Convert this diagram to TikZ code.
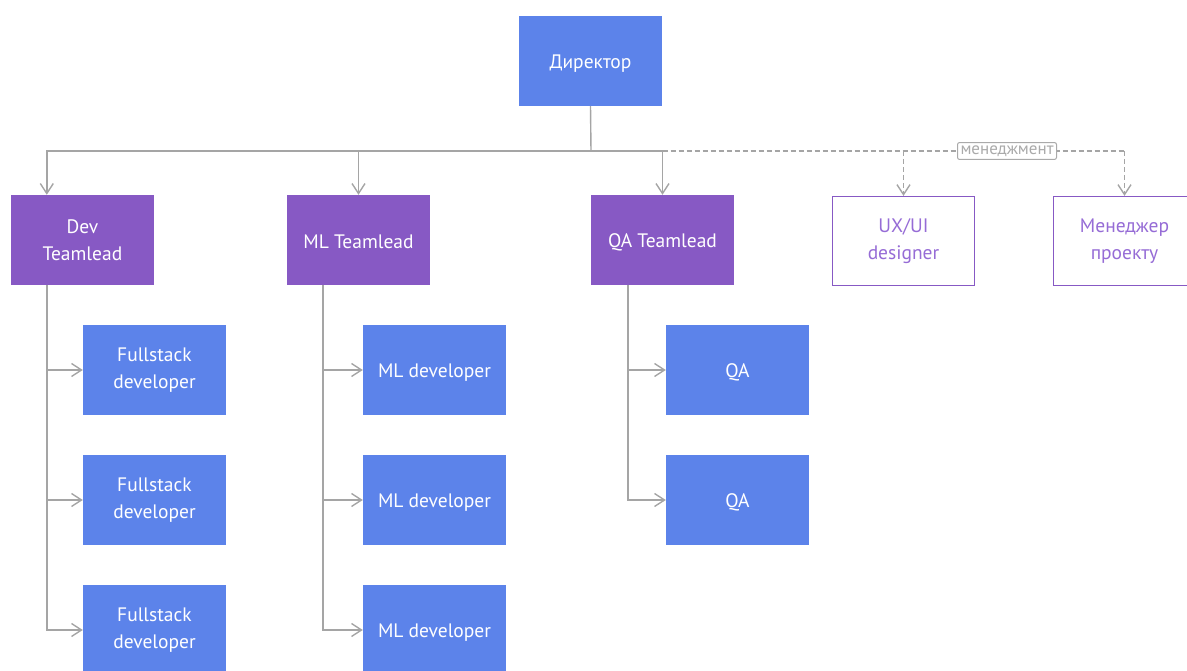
\documentclass[tikz,border=0pt]{standalone}
\usepackage{fontspec}
\setmainfont{PT Sans}
\usetikzlibrary{arrows.meta,calc}
\definecolor{boxblue}{RGB}{92,131,234}
\definecolor{boxpurple}{RGB}{135,89,196}
\definecolor{txtpurple}{RGB}{150,108,214}
\definecolor{linegrey}{RGB}{165,165,165}
\definecolor{labgrey}{RGB}{170,170,170}
\tikzset{
  base/.style={minimum width=143pt, minimum height=90pt, inner sep=0pt, align=center,
    font=\fontsize{19.5}{27}\selectfont, execute at begin node={\rule{0pt}{18pt}}},
  bluebox/.style={base, fill=boxblue, text=white},
  leadbox/.style={base, fill=boxpurple, text=white},
  outbox/.style={base, draw=boxpurple, line width=1.2pt, fill=white, text=txtpurple,
    minimum width=142pt, minimum height=89pt},
  conn/.style={draw=linegrey, line width=1.4pt},
  arr/.style={conn, -{Straight Barb[length=10pt,width=13pt,line width=1.4pt]}},
  darr/.style={conn, dashed, dash pattern=on 5pt off 3pt, -{Straight Barb[length=10pt,width=13pt,line width=1.4pt,sep=0pt]}},
  dline/.style={conn, dashed, dash pattern=on 5pt off 3pt},
  lab/.style={draw=labgrey, line width=1pt, fill=white, text=labgrey, rounded corners=2pt,
    inner xsep=3pt, inner ysep=3pt, font=\fontsize{17}{19}\selectfont},
}
\begin{document}
\begin{tikzpicture}[x=1pt,y=-1pt]
\useasboundingbox (0,0) rectangle (1187,671);
\clip (0,0) rectangle (1187,671);
% top
\node[bluebox] (dir) at (590.5,61) {Директор};
\coordinate (bus) at (591,151);
% team leads
\node[leadbox] (dev) at (82.5,240) {Dev\\Teamlead};
\node[leadbox] (ml) at (358.5,240) {ML Teamlead};
\node[leadbox] (qa) at (662.5,240) {QA Teamlead};
\node[outbox] (ux) at (903.5,241) {UX/UI\\designer};
\node[outbox] (pm) at (1124.5,241) {Менеджер\\проекту};
% children
\node[bluebox] (fs1) at (154.5,370) {Fullstack\\developer};
\node[bluebox] (fs2) at (154.5,500) {Fullstack\\developer};
\node[bluebox] (fs3) at (154.5,630) {Fullstack\\developer};
\node[bluebox] (ml1) at (434.5,370) {ML developer};
\node[bluebox] (ml2) at (434.5,500) {ML developer};
\node[bluebox] (ml3) at (434.5,630) {ML developer};
\node[bluebox] (qa1) at (737.5,370) {QA};
\node[bluebox] (qa2) at (737.5,500) {QA};
% arrow anchors
\coordinate (devtop) at ([xshift=36pt]dev.north west);
\coordinate (devbot) at ([xshift=36pt]dev.south west);
\coordinate (mltop) at (ml.north);
\coordinate (mlbot) at ([xshift=36pt]ml.south west);
\coordinate (qatop) at (qa.north);
\coordinate (qabot) at ([xshift=37pt]qa.south west);
% bus
\draw[conn] (dir.south) -- (bus);
\draw[arr] (bus) -| (devtop);
\draw[arr] (bus) -| (qatop);
\draw[arr] (mltop |- bus) -- (mltop);
\draw[dline] (qatop |- bus) -- (pm.north |- bus);
\draw[darr] (pm.north |- bus) -- (pm.north);
\draw[darr] (ux.north |- bus) -- (ux.north);
\node[lab] (mgmt) at (1007,151) {менеджмент};
% dev children
\draw[arr] (devbot) |- (fs1.west);
\draw[arr] (devbot) |- (fs2.west);
\draw[arr] (devbot) |- (fs3.west);
% ml children
\draw[arr] (mlbot) |- (ml1.west);
\draw[arr] (mlbot) |- (ml2.west);
\draw[arr] (mlbot) |- (ml3.west);
% qa children
\draw[arr] (qabot) |- (qa1.west);
\draw[arr] (qabot) |- (qa2.west);
\end{tikzpicture}
\end{document}
